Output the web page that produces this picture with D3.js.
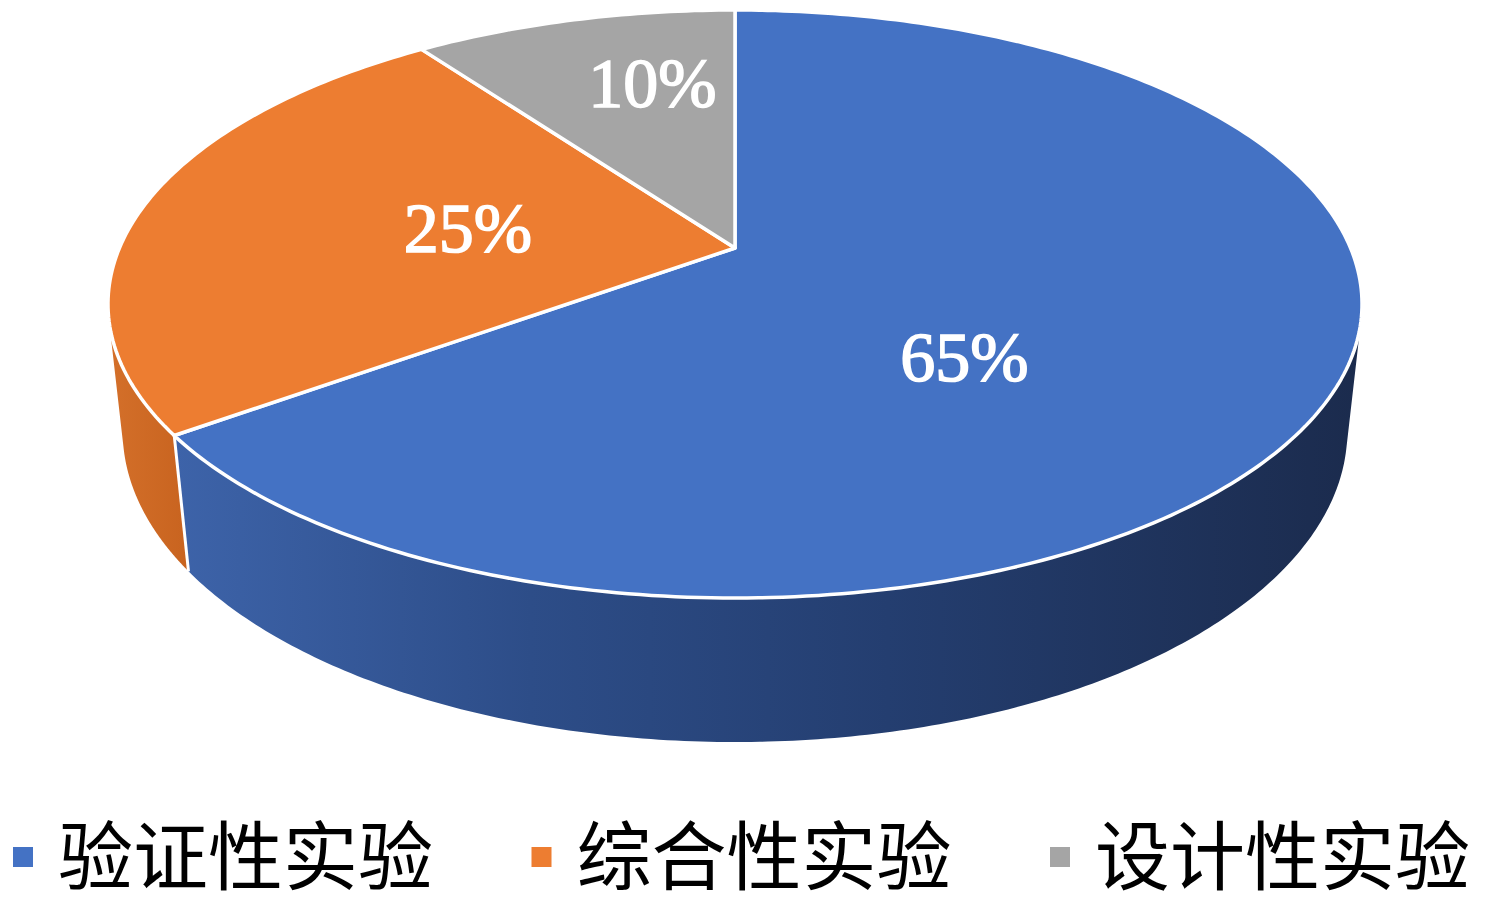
<!DOCTYPE html>
<html><head><meta charset="utf-8">
<script src="https://cdn.jsdelivr.net/npm/d3@7"></script>
<style>
html,body{margin:0;padding:0;background:#fff;}
svg{display:block;}
</style></head>
<body>
<svg id="chart" width="1488" height="906"></svg>
<script>
// ---- data ----
const categories = ["验证性实验", "综合性实验", "设计性实验"];
const values = [65, 25, 10];
const labels = ["65%", "25%", "10%"];
const topColors = ["#4472C4", "#ED7D31", "#A5A5A5"];

// ---- layout (label anchors in disc coordinates: angle shift in degrees, radius fraction) ----
const labelAngleShift = [19, 0, 5];
const labelRadius = [0.50, 0.445, 0.67];

const svg = d3.select("#chart");

// 3D perspective projection of a unit disc
const cx = 735, cy = 248;           // projected disc centre
const cosP = 0.8878, sinP = 0.4603; // camera elevation
const dist = 4.661, focal = 2869, depth = 0.2343;

function proj(theta, r, w) {
  const u = r * Math.sin(theta), v = -r * Math.cos(theta);
  const z = dist - cosP * v - sinP * w;
  const yc = -sinP * v + cosP * w;
  return [cx + focal * u / z, cy - focal * yc / z];
}

const pie = d3.pie().sort(null).value(d => d)(values);

const defs = svg.append("defs");
const gb = defs.append("linearGradient").attr("id", "sideBlue")
  .attr("gradientUnits", "userSpaceOnUse").attr("x1", 175).attr("x2", 1362).attr("y1", 0).attr("y2", 0);
[[0, "#3d63a9"], [0.3, "#2d4d88"], [0.6, "#243e70"], [1, "#1b2b4d"]].forEach(s =>
  gb.append("stop").attr("offset", s[0]).attr("stop-color", s[1]));
const go = defs.append("linearGradient").attr("id", "sideOrange")
  .attr("gradientUnits", "userSpaceOnUse").attr("x1", 100).attr("x2", 190).attr("y1", 0).attr("y2", 0);
[[0, "#d5712b"], [1, "#c8631f"]].forEach(s =>
  go.append("stop").attr("offset", s[0]).attr("stop-color", s[1]));
const gg = defs.append("linearGradient").attr("id", "sideGray")
  .attr("gradientUnits", "userSpaceOnUse").attr("x1", 0).attr("x2", 1).attr("y1", 0).attr("y2", 0);
gg.append("stop").attr("offset", 0).attr("stop-color", "#8a8a8a");
const sideFills = ["url(#sideBlue)", "url(#sideOrange)", "url(#sideGray)"];

// visible side range: v > 1/(dist*cosP)
const vMin = 1 / (dist * cosP);
const visA = Math.PI - Math.acos(vMin);
const visB = Math.PI + Math.acos(vMin);

const N = 200;
const line = d3.line();
const gSide = svg.append("g");
pie.forEach((p, i) => {
  const a0 = Math.max(p.startAngle, visA), a1 = Math.min(p.endAngle, visB);
  if (a1 <= a0) return;
  const pts = [];
  for (let k = 0; k <= N; k++) pts.push(proj(a0 + (a1 - a0) * k / N, 1, 0));
  for (let k = N; k >= 0; k--) pts.push(proj(a0 + (a1 - a0) * k / N, 1, -depth));
  gSide.append("path").attr("d", line(pts) + "Z").attr("fill", sideFills[i]);
});
pie.forEach(p => {
  const a = p.endAngle;
  if (a > visA && a < visB) {
    gSide.append("path").attr("d", line([proj(a, 1, 0), proj(a, 1, -depth)]))
      .attr("stroke", "#fff").attr("stroke-width", 3).attr("fill", "none");
  }
});

// top faces
const gTop = svg.append("g");
pie.forEach((p, i) => {
  const pts = [proj(0, 0, 0)];
  const n = Math.max(20, Math.round(N * (p.endAngle - p.startAngle) / Math.PI));
  for (let k = 0; k <= n; k++) pts.push(proj(p.startAngle + (p.endAngle - p.startAngle) * k / n, 1, 0));
  gTop.append("path").attr("d", line(pts) + "Z").attr("fill", topColors[i])
    .attr("stroke", "#fff").attr("stroke-width", 3.5).attr("stroke-linejoin", "round");
});

// data labels
pie.forEach((p, i) => {
  const mid = (p.startAngle + p.endAngle) / 2 + labelAngleShift[i] * Math.PI / 180;
  const [x, y] = proj(mid, labelRadius[i], 0);
  svg.append("text").attr("x", x).attr("y", y).attr("dy", "0.34em")
    .attr("text-anchor", "middle").attr("fill", "#fff")
    .attr("stroke", "#fff").attr("stroke-width", 1.6)
    .style("font-family", "'Liberation Serif','Times New Roman',serif")
    .style("font-size", "70px").text(labels[i]);
});

// legend
const legX = d3.scalePoint().domain(categories).range([13, 1050]);
const leg = svg.append("g");
categories.forEach((c, i) => {
  const x = legX(c);
  leg.append("rect").attr("x", x).attr("y", 847).attr("width", 20).attr("height", 20).attr("fill", topColors[i]);
  leg.append("text").attr("x", x + 45).attr("y", 884)
    .style("font-family", "'Noto Sans CJK SC','Noto Sans',sans-serif")
    .style("font-size", "75px").attr("fill", "#000").text(c);
});
</script>
</body></html>
